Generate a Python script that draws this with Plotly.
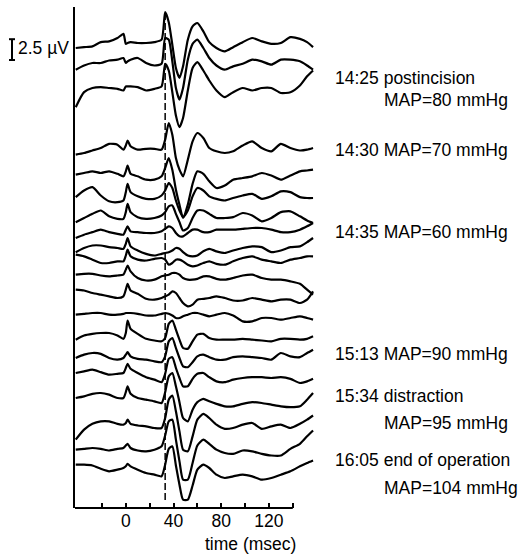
import plotly.graph_objects as go

# ---------------- data ----------------
time_ms = [-42, -35, -28, -21, -14, -7, -2, 0, 1.5, 4, 10, 17, 24, 30, 33, 36, 39, 42, 45, 48,
           52, 56, 60, 65, 70, 76, 83, 90, 98, 106, 114, 122, 130, 138, 146, 152, 157]

# deflections (µV) of each sweep relative to its own baseline, top sweep first
wave_01 = [0, 0.1, 0.2, 0.7, 0.8, 1.2, 1.7, 0.5, 0.6, 0.7, 0.6, 0.6, 0.7, 1.0, 4.3, 3.1, 0.4, -2.4, -3.6, -2.2,
           1.0, 2.6, 3.0, 2.0, 0.7, 0, -0.4, 0.1, 0.7, 1.2, 0.8, 0.5, 0.6, 1.3, 1.1, 0.7, 0.1]
wave_02 = [0, 0.5, 0.8, 0.8, 1.1, 1.2, 1.4, 0.8, 1.0, 1.2, 1.4, 0.8, 0.5, 0.7, 3.8, 3.6, 1.0, -2.2, -3.6, -2.2,
           1.2, 3.1, 3.6, 2.6, 1.4, 0.5, 0, 0.4, 0.7, 1.2, 1.0, 0.6, 1.2, 1.2, 1.0, 0.5, 0]
wave_03 = [0, 1.8, 2.3, 2.4, 2.3, 2.2, 2.0, 2.5, 2.5, 2.5, 2.4, 2.0, 2.2, 2.5, 5.2, 4.4, 1.8, -1.0, -2.4, -1.3,
           2.0, 4.7, 5.4, 4.4, 3.2, 2.0, 1.2, 1.8, 2.3, 2.0, 2.3, 2.3, 1.7, 1.8, 2.6, 3.7, 4.4]
wave_04 = [0, 0.2, 0.5, 0.8, 1.3, 1.2, 0.6, 1.1, 1.7, 1.0, 0.6, 0.7, 0.7, 0.6, 1.8, 3.8, 2.4, -0.4, -1.8, -2.6,
           -0.6, 1.6, 2.6, 2.0, 0.8, 0.4, 0.2, 0.4, 1.1, 1.6, 0.8, 0.4, 1.3, 0.8, 0.5, 0.6, 0.8]
wave_05 = [0, 0.2, 0.4, 0.2, 0.4, 0.1, -0.2, 0.4, 1.1, 0.1, -0.2, -0.6, -0.6, -0.2, 0.8, 2.0, 0.6, -1.8, -3.6, -5.2,
           -3.6, -1.1, 0.4, 0.1, -0.8, -1.6, -1.3, -0.6, -0.4, -0.2, 0.2, -0.1, -0.6, -0.1, 0.4, 0.5, 0.6]
wave_06 = [0, 0.8, 1.2, 0.2, -0.5, -0.6, -0.4, 0.6, 1.6, 0.6, 0.1, -0.2, -0.2, 0.2, 0.8, 1.7, 1.1, -0.4, -1.6, -2.4,
           -1.6, 0.1, 1.1, 0.8, 0.1, -0.2, -0.4, -0.1, 0.2, 0.4, -0.2, 0.1, 0.7, 0.6, 0, -0.1, -0.1]
wave_07 = [0, 0.5, 1.0, 1.4, 0.7, 0.4, 0.4, 1.2, 2.2, 1.2, 0.6, 0.4, 0.5, 0.8, 1.2, 1.9, 2.0, 1.0, 0, -1.0,
           -0.7, 0.5, 1.4, 1.4, 1.0, 0.5, 0.5, 0.6, 1.1, 0.8, 0.1, 0.5, 1.2, 1.3, 0.7, 0.2, -0.1]
wave_08 = [0, 0.4, 0.7, 1.0, 0.7, 0.5, 0.4, 1.0, 1.4, 0.8, 0.7, 0.6, 0.6, 0.8, 1.1, 1.4, 1.2, 0.6, 0.2, 0.2,
           0.6, 1.0, 1.0, 0.7, 0.7, 1.0, 1.0, 1.0, 1.1, 1.2, 1.2, 1.0, 0.7, 0.7, 1.0, 1.4, 1.8]
wave_09 = [0, 0.5, 0.8, 0.8, 0.6, 0.5, 0.4, 1.0, 1.7, 0.7, 0.2, -0.2, -0.4, -0.2, -0.1, 0, 0.2, 0.5, 0.4, 0,
           -0.4, -0.5, -0.4, 0.1, 0.4, 0.1, -0.1, 0.2, 0.5, 0.7, 0.6, 0, 0.2, 0.6, 0.7, 1.2, 1.7]
wave_10 = [0, -0.2, -0.6, -1.0, -1.0, -0.8, -0.8, -0.1, 0.6, -0.2, -0.6, -0.7, -0.5, -0.4, -0.6, -1.2, -1.0, -0.6, -0.6, -0.8,
           -1.2, -1.4, -1.3, -1.0, -0.8, -1.1, -1.2, -0.8, -0.4, -0.2, -0.6, -0.8, -1.0, -0.6, -0.4, -0.2, -0.2]
wave_11 = [0, 0.1, 0.1, -0.1, -0.2, -0.1, 0, 0.6, 1.1, 0.4, -0.4, -0.7, -0.6, -0.2, -0.1, 0, 0.2, 0.2, 0, -0.4,
           -0.6, -0.6, -0.5, -0.2, -0.2, -0.5, -0.6, -0.4, -0.1, 0, -0.4, -0.6, -0.6, -0.8, -1.1, -1.8, -2.4]
wave_12 = [0, -0.1, -0.4, -0.6, -0.8, -1.0, -0.8, 0, 0.7, -0.1, -0.5, -1.1, -1.2, -1.0, -0.8, -0.6, -0.2, -0.4, -1.0, -1.6,
           -2.0, -1.8, -1.2, -1.1, -1.0, -0.8, -1.0, -1.3, -1.3, -1.0, -1.2, -1.4, -1.2, -1.2, -1.6, -1.2, -0.2]
wave_13 = [0, 0.1, 0.2, 0.2, 0, 0, 0.1, 0.2, 0.2, 0.2, 0.1, -0.1, -0.1, 0.1, 0.2, 0.1, -0.1, -0.4, -0.4, -0.2,
           0, 0.2, 0.2, 0, -0.2, 0, 0.2, -0.1, -0.8, -0.8, -0.4, -0.4, -0.6, -0.4, -0.2, -0.4, -0.6]
wave_14 = [0, 0.5, 0.7, 0.8, 0.8, 0.5, 0.1, 0.8, 2.3, 1.3, 0.7, 0.1, -0.1, -0.2, 0.2, 1.9, 2.3, 1.2, 0, -1.0,
           -1.1, -0.2, 0.6, 0.7, 0.2, 0, 0, 0, 0.1, 0, -0.1, -0.2, 0.1, 0.1, 0, 0.1, 0.4]
wave_15 = [0, 0.4, 0.6, 0.5, 0, -0.2, 0, 0.4, 0.7, 0.2, -0.1, -0.2, -0.4, -0.5, 0.2, 2.0, 2.4, 1.2, 0, -1.0,
           -1.1, -0.5, 0.2, 0.4, 0.1, -0.2, -0.2, 0.1, 0.2, 0.1, 0, -0.2, 0.6, 0.2, 0.1, 0.6, 1.0]
wave_16 = [0, 0.2, 0.4, 0.1, -0.2, -0.1, 0, 0.6, 1.1, 0.5, 0, -0.5, -0.8, -1.1, -0.1, 1.7, 1.9, 0.6, -0.6, -1.6,
           -1.6, -0.7, -0.1, 0, -0.5, -1.0, -1.1, -0.8, -0.6, -0.5, -0.5, -0.6, -0.5, -0.7, -1.2, -1.0, -0.7]
wave_17 = [0, 0.2, 0.5, 0.6, 0.4, 0, 0, 0.7, 1.4, 0.5, 0, -0.2, -0.4, -0.6, 0.7, 2.6, 3.0, 1.4, -0.5, -2.4,
           -2.8, -1.4, -0.5, -0.1, -0.4, -0.7, -1.0, -1.0, -0.7, -0.5, -0.6, -0.8, -1.0, -1.1, -1.0, -0.2, 0.6]
wave_18 = [0, 1.2, 1.9, 2.2, 2.2, 1.9, 1.8, 2.0, 2.4, 1.9, 1.7, 1.6, 1.4, 1.4, 2.6, 4.8, 5.3, 3.4, 1.0, -1.2,
           -1.4, 0.4, 2.4, 3.1, 2.6, 1.8, 1.3, 1.4, 1.8, 2.0, 1.3, 1.6, 1.8, 1.4, 1.9, 2.4, 2.9]
wave_19 = [0, 0.1, 0.2, 0.1, -0.1, 0.1, 0.2, 0.5, 0.7, 0.2, -0.1, -0.2, 0, 0.4, 1.7, 3.4, 3.6, 1.2, -1.4, -3.6,
           -3.6, -1.6, 0.5, 1.2, 0.7, 0, -0.4, -0.5, -0.1, -0.2, -0.5, -0.7, -0.7, 0.1, 0.7, 1.6, 2.3]
wave_20 = [0, 0, -0.1, -0.5, -0.8, -0.6, -0.4, -0.2, 0.1, -0.2, -0.6, -1.0, -1.2, -1.4, 0, 1.9, 2.2, -0.1, -2.4, -4.2,
           -4.2, -2.5, -0.6, 0, -0.4, -1.2, -1.6, -1.4, -1.2, -1.4, -1.8, -1.6, -1.2, -0.8, -0.2, 0.2, 0.5]

waves = [wave_01, wave_02, wave_03, wave_04, wave_05, wave_06, wave_07, wave_08, wave_09, wave_10,
         wave_11, wave_12, wave_13, wave_14, wave_15, wave_16, wave_17, wave_18, wave_19, wave_20]

# vertical position (µV) of each sweep's baseline in the stacked display
baseline_uV = [55.2, 52.6, 48.1, 42.4, 40.0, 37.3, 34.3, 32.4, 30.7, 30.4,
               28.0, 26.2, 23.2, 20.2, 18.0, 16.2, 13.2, 8.2, 7.0, 5.2]

label_text = ["14:25 postincision", "MAP=80 mmHg", "14:30 MAP=70 mmHg", "14:35 MAP=60 mmHg",
              "15:13 MAP=90 mmHg", "15:34 distraction", "MAP=95 mmHg",
              "16:05 end of operation", "MAP=104 mmHg"]
label_level_uV = [51.6, 49.0, 43.0, 33.1, 18.5, 13.4, 10.2, 5.8, 2.4]
label_indent = [0, 1, 0, 0, 0, 0, 1, 0, 1]

tick_vals = [-20, 0, 20, 40, 60, 80, 100, 120, 140]
tick_text = ["", "0", "", "40", "", "80", "", "120", ""]

marker_ms = 33          # dashed reference latency
scale_bar_uV = 2.5

# ---------------- figure ----------------
FONT = "Liberation Sans, Arial, Helvetica, sans-serif"
W, H = 524, 554
ML, MR, MT, MB = 75, 210, 7, 46
X_RANGE = [-42.6, 157.8]
Y_RANGE = [0, 60.12]
plot_w = W - ML - MR

def px_to_paper_x(px):
    return (px - ML) / plot_w

fig = go.Figure()

for wave, base in zip(waves, baseline_uV):
    fig.add_trace(go.Scatter(
        x=time_ms, y=[base + v for v in wave], mode="lines",
        line=dict(color="black", width=2.2, shape="spline", smoothing=0.6),
        hoverinfo="skip", showlegend=False))

shapes = []
# dashed latency marker
shapes.append(dict(type="line", xref="x", yref="y", x0=marker_ms, x1=marker_ms,
                   y0=0.96, y1=59.76, line=dict(color="black", width=1.5, dash="7px,3px")))
# x axis line (stops at 140 ms)
shapes.append(dict(type="line", xref="paper", yref="paper",
                   x0=0, x1=(140 - X_RANGE[0]) / (X_RANGE[1] - X_RANGE[0]), y0=0, y1=0,
                   line=dict(color="black", width=2)))
# calibration bar
bar_top = Y_RANGE[1] - (39.2 - MT) * (Y_RANGE[1] - Y_RANGE[0]) / (H - MT - MB)
bar_bot = bar_top - scale_bar_uV
bx = px_to_paper_x(12)
cap = 3 / plot_w
shapes.append(dict(type="line", xref="paper", yref="y", x0=bx, x1=bx, y0=bar_bot, y1=bar_top,
                   line=dict(color="black", width=2)))
for yy in (bar_bot, bar_top):
    shapes.append(dict(type="line", xref="paper", yref="y", x0=bx - cap, x1=bx + cap, y0=yy, y1=yy,
                       line=dict(color="black", width=2)))

annotations = []
annotations.append(dict(text=f"{scale_bar_uV} µV", xref="paper", yref="y", x=px_to_paper_x(16),
                        y=(bar_top + bar_bot) / 2 + 0.2, xanchor="left", yanchor="middle",
                        showarrow=False, font=dict(family=FONT, size=17.5, color="black")))
for txt, lvl, ind in zip(label_text, label_level_uV, label_indent):
    annotations.append(dict(text=txt, xref="paper", yref="y",
                            x=px_to_paper_x(382 if ind else 333), y=lvl,
                            xanchor="left", yanchor="middle", showarrow=False,
                            font=dict(family=FONT, size=17.5, color="black")))
annotations.append(dict(text="time (msec)", xref="x", yref="paper", x=104.5, y=-(544 - 508) / (H - MT - MB),
                        xanchor="center", yanchor="middle", showarrow=False,
                        font=dict(family=FONT, size=17.5, color="black")))

fig.update_layout(
    width=W, height=H, autosize=False,
    margin=dict(l=ML, r=MR, t=MT, b=MB, pad=0),
    paper_bgcolor="white", plot_bgcolor="white",
    shapes=shapes, annotations=annotations,
    xaxis=dict(range=X_RANGE, showgrid=False, zeroline=False, showline=False,
               tickmode="array", tickvals=tick_vals, ticktext=tick_text,
               ticks="inside", ticklen=5, tickwidth=2, tickcolor="black",
               tickfont=dict(family=FONT, size=17.5, color="black")),
    yaxis=dict(range=Y_RANGE, showgrid=False, zeroline=False, showline=True,
               linecolor="black", linewidth=2, ticks="", showticklabels=False),
)

# remove the browser's default page margin so the figure sits at the window's top-left corner
fig.write_html("out.html",
               config={"displayModeBar": False, "staticPlot": True},
               post_script="document.body.style.margin='0px';document.body.style.overflow='hidden';")
